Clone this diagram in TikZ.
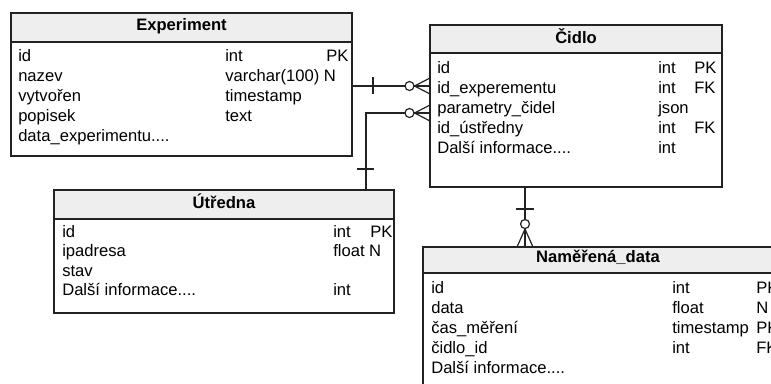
\documentclass[tikz,border=0pt]{standalone}
\usepackage{fontspec}
\setmainfont{Liberation Sans}
\definecolor{hdr}{HTML}{EEEEEE}
\definecolor{ln}{HTML}{222222}
\tikzset{
  tbl/.style={draw=ln, line width=0.9pt, fill=white, inner sep=0pt, outer sep=0pt, anchor=north west},
  hdrbox/.style={tbl, fill=hdr},
  txt/.style={anchor=base west, inner sep=0pt, font=\fontsize{12.45}{14}\selectfont},
  ttl/.style={anchor=base, inner sep=0pt, font=\fontsize{12.45}{14}\selectfont\bfseries},
  conn/.style={draw=ln, line width=0.9pt},
  circ/.style={circle, draw=ln, line width=0.9pt, fill=white, inner sep=0pt, minimum size={9*0.75pt}},
}
\begin{document}
\begin{tikzpicture}[x=0.75pt, y=-0.75pt]
\useasboundingbox (0,0) rectangle (771,383);
\clip (0,0) rectangle (771,383);

% ---------- Experiment ----------
\node[tbl, minimum width={341*0.75pt}, minimum height={143*0.75pt}] (exp) at (11,13) {};
\node[hdrbox, minimum width={341*0.75pt}, minimum height={29*0.75pt}] (exph) at (11,13) {};
\node[ttl] (expt) at (181.5,30) {Experiment};
\node[txt] (e1) at (18,61) {id};
\node[txt] (e2) at (18,81) {nazev};
\node[txt] (e3) at (18,101) {vytvořen};
\node[txt] (e4) at (18,121) {popisek};
\node[txt] (e5) at (18,141) {data\_experimentu....};
\node[txt] (e1t) at (225,61) {int};
\node[txt] (e2t) at (225,81) {varchar(100) N};
\node[txt] (e3t) at (225,101) {timestamp};
\node[txt] (e4t) at (225,121) {text};
\node[txt] (e1k) at (326,61) {PK};

% ---------- Čidlo ----------
\node[tbl, minimum width={292*0.75pt}, minimum height={162*0.75pt}] (cid) at (430,25) {};
\node[hdrbox, minimum width={292*0.75pt}, minimum height={28*0.75pt}] (cidh) at (430,25) {};
\node[ttl] (cidt) at (576,43) {Čidlo};
\node[txt] (c1) at (437,73) {id};
\node[txt] (c2) at (437,93) {id\_experementu};
\node[txt] (c3) at (437,113) {parametry\_čidel};
\node[txt] (c4) at (437,133) {id\_ústředny};
\node[txt] (c5) at (437,153) {Další informace....};
\node[txt] (c1t) at (658,73) {int};
\node[txt] (c2t) at (658,93) {int};
\node[txt] (c3t) at (658,113) {json};
\node[txt] (c4t) at (658,133) {int};
\node[txt] (c5t) at (658,153) {int};
\node[txt] (c1k) at (694,73) {PK};
\node[txt] (c2k) at (694,93) {FK};
\node[txt] (c4k) at (694,133) {FK};

% ---------- Útředna ----------
\node[tbl, minimum width={340*0.75pt}, minimum height={123*0.75pt}] (utr) at (54,190) {};
\node[hdrbox, minimum width={340*0.75pt}, minimum height={29*0.75pt}] (utrh) at (54,190) {};
\node[ttl] (utrt) at (224,208) {Útředna};
\node[txt] (u1) at (62,237) {id};
\node[txt] (u2) at (62,256) {ipadresa};
\node[txt] (u3) at (62,276) {stav};
\node[txt] (u4) at (62,295) {Další informace....};
\node[txt] (u1t) at (333,237) {int};
\node[txt] (u2t) at (333,256) {float N};
\node[txt] (u4t) at (333,295) {int};
\node[txt] (u1k) at (370,237) {PK};

% ---------- Naměřená data ----------
\node[tbl, minimum width={350*0.75pt}, minimum height={160*0.75pt}] (nam) at (423,247) {};
\node[hdrbox, minimum width={350*0.75pt}, minimum height={26*0.75pt}] (namh) at (423,247) {};
\node[ttl] (namt) at (598,262) {Naměřená\_data};
\node[txt] (n1) at (431,293) {id};
\node[txt] (n2) at (431,313) {data};
\node[txt] (n3) at (431,333) {čas\_měření};
\node[txt] (n4) at (431,353) {čidlo\_id};
\node[txt] (n5) at (431,373) {Další informace....};
\node[txt] (n1t) at (672,293) {int};
\node[txt] (n2t) at (672,313) {float};
\node[txt] (n3t) at (672,333) {timestamp};
\node[txt] (n4t) at (672,353) {int};
\node[txt] (n1k) at (756,293) {PK};
\node[txt] (n2k) at (756,313) {N};
\node[txt] (n3k) at (756,333) {PK};
\node[txt] (n4k) at (756,353) {FK};

% ---------- Experiment -> Čidlo ----------
\draw[conn] (exp.east |- 0,86) -- (cid.west |- 0,86);
\draw[conn] (373,77) -- (373,94);
\node[circ] (o1) at (409.5,86) {};
\draw[conn] (o1.east) -- (cid.west |- 0,78);
\draw[conn] (o1.east) -- (cid.west |- 0,94);

% ---------- Útředna -> Čidlo ----------
\draw[conn] (utr.north -| 366,0) |- (cid.west |- 0,113);
\draw[conn] (357,169) -- (374,169);
\node[circ] (o2) at (409.5,113) {};
\draw[conn] (o2.east) -- (cid.west |- 0,105);
\draw[conn] (o2.east) -- (cid.west |- 0,121);

% ---------- Čidlo -> Naměřená data ----------
\draw[conn] (cid.south -| 525,0) -- (nam.north -| 525,0);
\draw[conn] (516,209) -- (534,209);
\node[circ] (o3) at (525,224) {};
\draw[conn] (o3.south) -- (nam.north -| 517,0);
\draw[conn] (o3.south) -- (nam.north -| 533,0);
\end{tikzpicture}
\end{document}
